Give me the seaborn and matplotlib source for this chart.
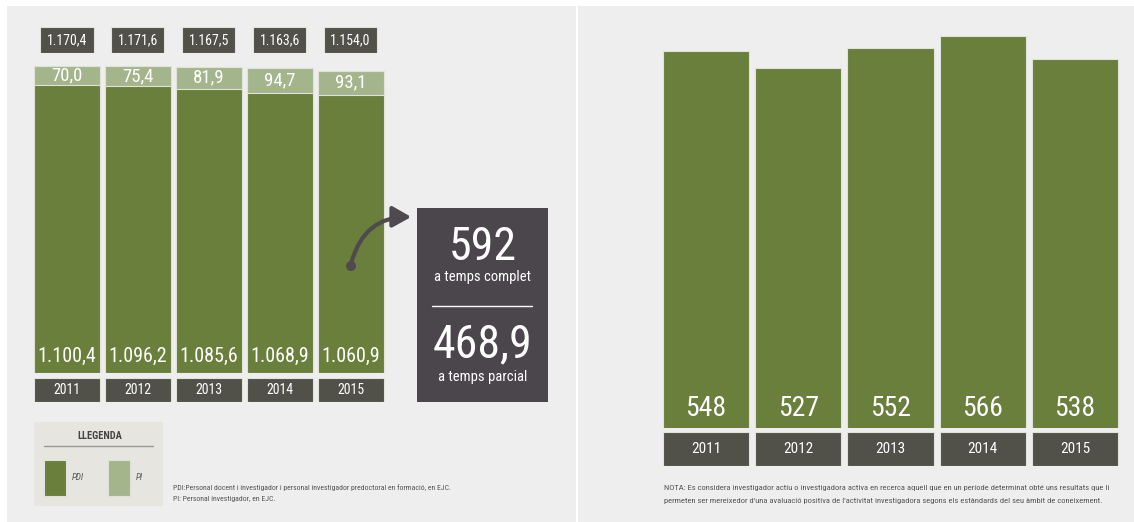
import matplotlib
matplotlib.use("Agg")
import matplotlib.pyplot as plt
import seaborn as sns
from matplotlib import font_manager
from matplotlib.patches import Rectangle, FancyArrowPatch, Ellipse

# data
years = ["2011", "2012", "2013", "2014", "2015"]
pdi = [1100.4, 1096.2, 1085.6, 1068.9, 1060.9]
pi = [70.0, 75.4, 81.9, 94.7, 93.1]
full_time = 592
part_time = 468.9
active = [548, 527, 552, 566, 538]

W, H = 1134, 522
DARK_GREEN = "#697f3b"
LIGHT_GREEN = "#a4b58b"
BOX_GRAY = "#51514a"
CALLOUT = "#4b464c"
PANEL = "#eeeeee"
EDGE = "#dfe2d8"

sns.set_style("white")

# the reference uses a condensed face; pick one if any is installed
condensed = [f for f in font_manager.fontManager.ttflist
             if "condensed" in str(f.stretch) or "Condensed" in f.name or "Narrow" in f.name]
pref = ["Roboto Condensed", "Open Sans Condensed", "Noto Sans", "DejaVu Sans", "Liberation Sans Narrow"]
condensed.sort(key=lambda f: pref.index(f.name) if f.name in pref else len(pref))
narrow = len(condensed) > 0
if narrow:
    plt.rcParams["font.family"] = [condensed[0].name, "DejaVu Sans"]
    plt.rcParams["font.stretch"] = "condensed"
else:
    plt.rcParams["font.family"] = ["DejaVu Sans"]
k = 1.0 if narrow else 0.8  # shrink wide text if no condensed face


def fmt(v, dec=1):
    s = f"{v:,.{dec}f}"
    return s.replace(",", "#").replace(".", ",").replace("#", ".")


def add_ax(fig, x0, y0, x1, y1):
    # pixel box (top-left origin) -> figure axes
    return fig.add_axes([x0 / W, 1 - y1 / H, (x1 - x0) / W, (y1 - y0) / H])


def fx(px):
    return px / W


def fy(py):
    return 1 - py / H


fig = plt.figure(figsize=(W / 100, H / 100), dpi=100, facecolor="white")

# background panels
fig.add_artist(Rectangle((fx(7), 0), fx(576) - fx(7), fy(6), transform=fig.transFigure,
                         facecolor=PANEL, edgecolor="none", zorder=0))
fig.add_artist(Rectangle((fx(578), 0), 1 - fx(578), fy(6), transform=fig.transFigure,
                         facecolor=PANEL, edgecolor="none", zorder=0))

totals = [a + b for a, b in zip(pdi, pi)]

# ---- left chart: stacked PDI + PI ----
ax = add_ax(fig, 31.5, 20, 386, 373)
ax.set_facecolor("none")
sns.barplot(x=years, y=totals, color=LIGHT_GREEN, saturation=1, width=0.93,
            edgecolor=EDGE, linewidth=0.8, ax=ax)
sns.barplot(x=years, y=pdi, color=DARK_GREEN, saturation=1, width=0.93,
            edgecolor=EDGE, linewidth=0.8, ax=ax)
ax.set_xlim(-0.5, 4.5)
ax.set_ylim(0, 353 / 0.262)
ax.axis("off")
for i in range(len(years)):
    ax.text(i, pdi[i] + pi[i] / 2, fmt(pi[i]), ha="center", va="center",
            color="white", fontsize=13.5 * k)
    ax.annotate(fmt(pdi[i]), (i, 0), xytext=(0, 5), textcoords="offset points",
                ha="center", va="bottom", color="white", fontsize=14.5 * k)

# total boxes on top
ax_t = add_ax(fig, 31.5, 27, 386, 53)
sns.barplot(x=years, y=[1] * len(years), color=BOX_GRAY, saturation=1, width=0.75,
            edgecolor=EDGE, linewidth=0.8, ax=ax_t)
ax_t.set_xlim(-0.5, 4.5)
ax_t.set_ylim(0, 1)
ax_t.axis("off")
for i, t in enumerate(totals):
    ax_t.text(i, 0.5, fmt(t), ha="center", va="center", color="white", fontsize=10 * k)

# year boxes below
ax_y = add_ax(fig, 31.5, 378, 386, 402)
sns.barplot(x=years, y=[1] * len(years), color=BOX_GRAY, saturation=1, width=0.93,
            edgecolor=EDGE, linewidth=0.8, ax=ax_y)
ax_y.set_xlim(-0.5, 4.5)
ax_y.set_ylim(0, 1)
ax_y.axis("off")
for i, y in enumerate(years):
    ax_y.text(i, 0.5, y, ha="center", va="center", color="white", fontsize=10)

# callout box
fig.add_artist(Rectangle((fx(417), fy(402)), fx(548) - fx(417), fy(208) - fy(402),
                         transform=fig.transFigure, facecolor=CALLOUT, edgecolor="none"))
cx = fx(482.5)
fig.text(cx, fy(247), str(full_time), ha="center", va="center", color="white", fontsize=33)
fig.text(cx, fy(277), "a temps complet", ha="center", va="center", color="white", fontsize=10.5 * k)
fig.add_artist(plt.Line2D([fx(432), fx(532)], [fy(306), fy(306)], transform=fig.transFigure,
                          color="white", linewidth=1))
fig.text(cx, fy(344), fmt(part_time), ha="center", va="center", color="white", fontsize=33 * k)
fig.text(cx, fy(377), "a temps parcial", ha="center", va="center", color="white", fontsize=10.5 * k)

# arrow from the 2015 bar to the callout
fig.add_artist(Ellipse((fx(351), fy(266)), 10 / W, 10 / H, transform=fig.transFigure,
                       facecolor="#4f4a4f", edgecolor="none", zorder=5))
fig.add_artist(FancyArrowPatch((fx(351), fy(264)), (fx(414), fy(217)), transform=fig.transFigure,
                               connectionstyle="arc3,rad=-0.4",
                               arrowstyle="-|>,head_length=0.8,head_width=0.45",
                               mutation_scale=14, color="#4f4a4f", linewidth=3, zorder=5))

# legend
fig.add_artist(Rectangle((fx(34), fy(506)), fx(163) - fx(34), fy(422) - fy(506),
                         transform=fig.transFigure, facecolor="#e6e5df", edgecolor="none"))
fig.text(fx(100), fy(436), "LLEGENDA", ha="center", va="center", color="#444444",
         fontsize=7.5 * k, fontweight="bold")
fig.add_artist(plt.Line2D([fx(44), fx(153)], [fy(446), fy(446)], transform=fig.transFigure,
                          color="#9a9a94", linewidth=1))
for x0, col, lab in [(44, DARK_GREEN, "PDI"), (108, LIGHT_GREEN, "PI")]:
    fig.add_artist(Rectangle((fx(x0), fy(496)), 22 / W, 36 / H, transform=fig.transFigure,
                             facecolor=col, edgecolor=EDGE, linewidth=0.8))
    fig.text(fx(x0 + 28), fy(478), lab, ha="left", va="center", color="#555555",
             fontsize=6.5, fontstyle="italic")

left_fs = 5.6 if narrow else 4.4
right_fs = 6.1 if narrow else 4.8
fig.text(fx(173), fy(488), "PDI:Personal docent i investigador i personal investigador "
         "predoctoral en formació, en EJC.", ha="left", va="center", color="#555555", fontsize=left_fs)
fig.text(fx(173), fy(499), "PI: Personal investigador, en EJC.", ha="left", va="center",
         color="#555555", fontsize=left_fs)

# ---- right chart: active researchers ----
ax_r = add_ax(fig, 660, 6, 1121, 428)
ax_r.set_facecolor("none")
sns.barplot(x=years, y=active, color=DARK_GREEN, saturation=1, width=0.933,
            edgecolor=EDGE, linewidth=0.8, ax=ax_r)
ax_r.set_xlim(-0.5, 4.5)
ax_r.set_ylim(84, 84 + 422 / 0.813)
ax_r.axis("off")
for i, v in enumerate(active):
    ax_r.text(i, 20 / 422, str(v), ha="center", va="center", color="white", fontsize=20,
              transform=ax_r.get_xaxis_transform())

ax_ry = add_ax(fig, 660, 432, 1121, 466)
sns.barplot(x=years, y=[1] * len(years), color=BOX_GRAY, saturation=1, width=0.933,
            edgecolor=EDGE, linewidth=0.8, ax=ax_ry)
ax_ry.set_xlim(-0.5, 4.5)
ax_ry.set_ylim(0, 1)
ax_ry.axis("off")
for i, y in enumerate(years):
    ax_ry.text(i, 0.5, y, ha="center", va="center", color="white", fontsize=11)

fig.text(fx(664), fy(488), "NOTA: Es considera investigador actiu o investigadora activa en recerca "
         "aquell que en un període determinat obté uns resultats que li", ha="left", va="center",
         color="#555555", fontsize=right_fs)
fig.text(fx(664), fy(501), "permeten ser mereixedor d'una avaluació positiva de l'activitat "
         "investigadora segons els estàndards del seu àmbit de coneixement.", ha="left",
         va="center", color="#555555", fontsize=right_fs)

fig.savefig("out.png", dpi=100, facecolor="white")
